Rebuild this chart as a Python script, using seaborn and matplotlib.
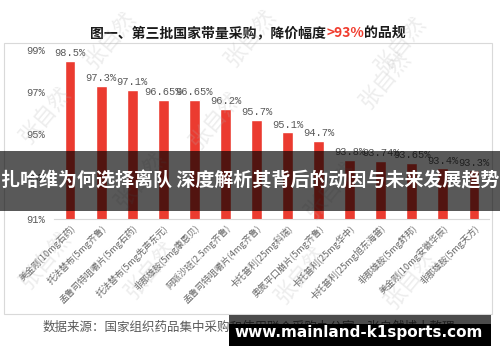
import matplotlib
matplotlib.use("Agg")
import matplotlib.pyplot as plt
from matplotlib.patches import Rectangle
from matplotlib.offsetbox import TextArea, HPacker, AnnotationBbox
import seaborn as sns

# data
products = ["美金刚(10mg石药)", "托法替布(5mg齐鲁)", "孟鲁司特咀嚼片(5mg石药)",
            "托法替布(5mg先声东元)", "非那雄胺(5mg康恩贝)", "阿哌沙班(2.5mg齐鲁)",
            "孟鲁司特咀嚼片(4mg齐鲁)", "卡托普利(25mg科瑞)", "奥氮平口崩片(5mg齐鲁)",
            "卡托普利(25mg华中)", "卡托普利(25mg旭东海普)", "非那雄胺(5mg舒邦)",
            "美金刚(10mg安徽华辰)", "非那雄胺(5mg天方)"]
price_cut = [98.5, 97.3, 97.1, 96.65, 96.65, 96.2, 95.7, 95.1, 94.7,
             93.8, 93.74, 93.65, 93.4, 93.3]
y_ticks = [91, 93, 95, 97, 99]

title_parts = [("图一、第三批国家带量采购，降价幅度", "#1a1a1a"), (">93%", "#f03c2e"), ("的品规", "#1a1a1a")]
source_note = "数据来源：国家组织药品集中采购和使用联合采购办公室，张自然博士整理"
banner_text = "扎哈维为何选择离队 深度解析其背后的动因与未来发展趋势"
site_text = "www.mainland-k1sports.com"

sns.set_style("white")
plt.rcParams['font.family'] = ['Noto Sans CJK SC', 'DejaVu Sans']

W, H = 500, 362
fig = plt.figure(figsize=(W / 100, H / 100), dpi=100)


def fx(px):
    return px / W


def fy(py):
    return 1 - py / H


# outer light frame
fig.add_artist(Rectangle((fx(4), fy(314)), fx(488), (314 - 43) / H, transform=fig.transFigure,
                         fill=False, edgecolor="#d9d9d9", linewidth=0.8, zorder=-1))

ax = fig.add_axes([fx(54.5), fy(219), fx(435), (219 - 50) / H])
sns.barplot(x=products, y=price_cut, color="#eb3b30", width=0.35, saturation=1, ax=ax)
ax.set_ylim(91, 99)
ax.set_yticks(y_ticks)
ax.set_yticklabels([f"{t}%" for t in y_ticks], family="Liberation Mono", fontsize=7.5, color="#595959")
ax.set_xticks(range(len(products)))
ax.set_xticklabels(products, rotation=45, ha="right", rotation_mode="anchor",
                   fontsize=6.5, color="#666666")
ax.tick_params(axis="both", length=0)
ax.tick_params(axis="y", pad=7)
ax.tick_params(axis="x", pad=3)
for side in ["left", "right", "top"]:
    ax.spines[side].set_visible(False)
ax.spines["bottom"].set_color("#d9d9d9")
ax.set_xlabel("")
ax.set_ylabel("")

ax.bar_label(ax.containers[0], labels=[f"{v:g}%" for v in price_cut], padding=2,
             family="Liberation Mono", fontsize=7.5, color="#595959")

# title with red highlight
parts = [TextArea(t, textprops=dict(color=c, fontsize=10, fontweight="bold")) for t, c in title_parts]
title_box = HPacker(children=parts, align="baseline", pad=0, sep=0)
fig.add_artist(AnnotationBbox(title_box, (fx(248), fy(33)), xycoords="figure fraction",
                              frameon=False, box_alignment=(0.5, 0.5)))

# faint watermarks
for px, py in [(110, 40), (250, 38), (400, 45), (45, 115), (215, 120), (385, 80),
               (45, 260), (150, 270), (300, 275), (410, 280), (140, 180), (330, 190)]:
    fig.text(fx(px), fy(py), "张自然", rotation=50, fontsize=16, color="#b0b0b0",
             alpha=0.22, ha="center", va="center", zorder=5)

fig.text(fx(43), fy(327), source_note, fontsize=9, color="#595959", va="center", ha="left")

# overlay banner
fig.add_artist(Rectangle((0, fy(211)), 1, (211 - 151) / H, transform=fig.transFigure,
                         facecolor="black", alpha=0.65, linewidth=0, zorder=10))
fig.text(0.5, fy(181), banner_text, fontsize=13.7, fontweight="bold", color="white",
         ha="center", va="center", zorder=11)

# site box
fig.add_artist(Rectangle((fx(229), fy(346)), fx(262), (346 - 315) / H, transform=fig.transFigure,
                         facecolor="black", alpha=0.7, linewidth=0, zorder=10))
fig.add_artist(Rectangle((fx(229), fy(346)), fx(262), (346 - 324) / H, transform=fig.transFigure,
                         facecolor="black", linewidth=0, zorder=10))
fig.text(fx(359), fy(333), site_text, fontsize=11, fontweight="bold", color="white",
         family="DejaVu Sans", ha="center", va="center", zorder=11)

fig.savefig("out.png", dpi=100, facecolor="white")
